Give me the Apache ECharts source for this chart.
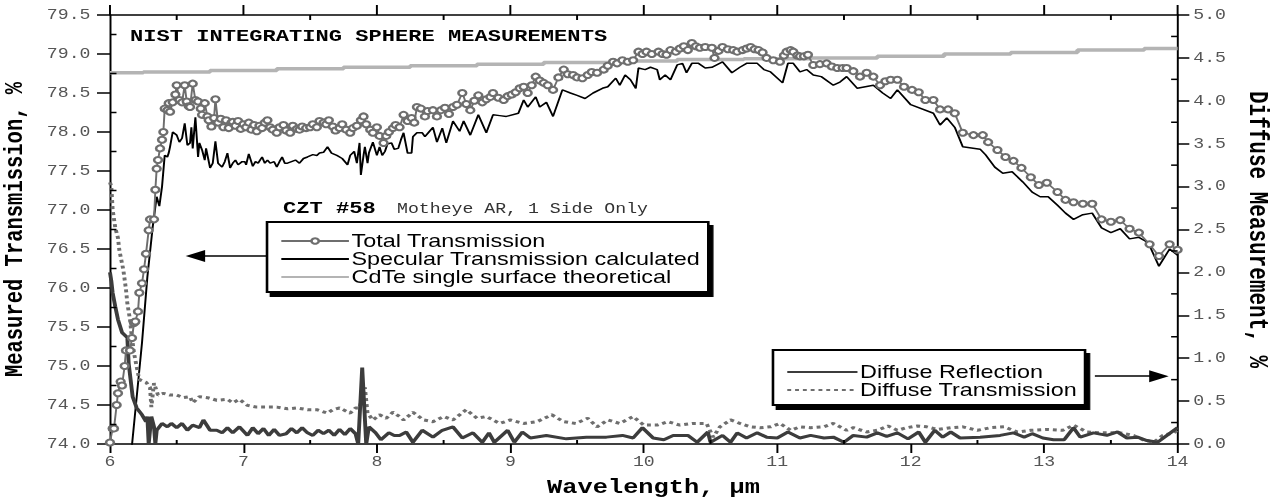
<!DOCTYPE html>
<html>
<head>
<meta charset="utf-8">
<script src="https://cdn.jsdelivr.net/npm/echarts@6/dist/echarts.min.js"></script>
<style>
  html, body { margin: 0; padding: 0; background: #fff; overflow: hidden; }
  #chart { height: 499px; transform-origin: 0 0; }
</style>
</head>
<body>
<div id="chart"></div>
<script>
// the original figure is stretched horizontally, so draw narrow and stretch with css
var STRETCH = 1.3;
var W = 1276 / STRETCH;

// [wavelength um, value]
var totalTrans = [
  [6.00,74.02],[6.02,74.2],[6.03,74.2],[6.05,74.5],[6.06,74.65],[6.08,74.8],[6.09,74.75],[6.11,75.0],[6.12,75.2],[6.15,75.2],
  [6.165,75.36],[6.18,75.55],[6.19,75.57],[6.21,75.7],[6.22,75.94],[6.24,76.06],[6.255,76.24],[6.27,76.44],[6.29,76.74],[6.30,76.88],
  [6.33,76.88],[6.34,77.26],[6.35,77.53],[6.36,77.64],[6.375,77.79],[6.39,77.9],[6.40,78.0],[6.41,78.3],[6.43,78.28],[6.44,78.37],
  [6.45,78.26],[6.47,78.38],[6.49,78.48],[6.50,78.6],[6.52,78.41],[6.54,78.38],[6.56,78.6],[6.575,78.39],[6.59,78.33],[6.60,78.32],
  [6.62,78.62],[6.64,78.41],[6.66,78.39],[6.68,78.3],[6.69,78.22],[6.71,78.37],[6.73,78.2],[6.74,78.15],[6.76,78.07],[6.78,78.18],
  [6.79,78.42],[6.81,78.12],[6.83,78.17],[6.85,78.06],[6.87,78.15],[6.89,78.05],[6.91,78.12],[6.92,78.13],[6.94,78.08],[6.96,78.14],
  [6.98,78.04],[7.00,78.10],[7.02,78.06],[7.04,78.12],[7.06,78.03],[7.08,78.09],[7.10,78.01],[7.12,78.08],[7.14,78.05],[7.16,78.12],
  [7.18,78.15],[7.20,78.06],[7.22,78.03],[7.25,77.99],[7.27,78.06],[7.30,78.09],[7.32,78.02],[7.35,77.99],[7.37,78.08],[7.40,78.04],
  [7.42,78.03],[7.44,78.07],[7.47,78.05],[7.50,78.06],[7.52,78.1],[7.55,78.06],[7.57,78.14],[7.60,78.12],[7.62,78.1],[7.64,78.15],
  [7.67,78.07],[7.69,78.02],[7.72,78.05],[7.74,78.1],[7.77,78.03],[7.80,77.99],[7.82,78.05],[7.85,78.08],[7.88,78.15],[7.90,78.2],
  [7.92,78.1],[7.95,78.03],[7.97,77.99],[8.00,78.06],[8.02,77.95],[8.05,77.86],[8.07,77.95],[8.09,78.0],[8.12,78.05],[8.14,78.09],
  [8.17,78.06],[8.20,78.22],[8.23,78.14],[8.26,78.18],[8.28,78.12],[8.30,78.32],[8.33,78.3],[8.36,78.2],[8.38,78.27],[8.42,78.28],
  [8.45,78.2],[8.48,78.28],[8.51,78.31],[8.54,78.23],[8.57,78.32],[8.60,78.35],[8.64,78.5],[8.67,78.36],[8.70,78.28],[8.73,78.4],
  [8.76,78.47],[8.79,78.38],[8.82,78.42],[8.85,78.45],[8.87,78.5],[8.91,78.44],[8.95,78.41],[8.98,78.46],[9.01,78.48],[9.04,78.51],
  [9.07,78.56],[9.10,78.58],[9.13,78.5],[9.16,78.6],[9.19,78.71],[9.22,78.66],[9.25,78.63],[9.28,78.6],[9.32,78.54],[9.36,78.7],
  [9.40,78.8],[9.43,78.74],[9.47,78.73],[9.50,78.7],[9.54,78.69],[9.58,78.73],[9.61,78.77],[9.65,78.76],[9.70,78.8],[9.73,78.85],
  [9.77,78.9],[9.80,78.88],[9.84,78.92],[9.88,78.9],[9.92,78.92],[9.96,79.03],[9.99,79.0],[10.02,79.03],[10.06,79.0],[10.11,79.03],
  [10.14,79.0],[10.17,78.99],[10.20,79.05],[10.24,79.03],[10.27,79.07],[10.30,79.1],[10.33,79.05],[10.36,79.14],[10.39,79.1],[10.42,79.08],
  [10.46,79.09],[10.51,79.08],[10.53,78.95],[10.56,79.04],[10.59,79.09],[10.63,79.06],[10.67,79.05],[10.70,79.03],[10.74,79.05],[10.77,79.07],
  [10.80,79.09],[10.83,79.06],[10.86,79.05],[10.89,79.02],[10.92,78.95],[10.97,78.92],[11.02,78.9],[11.05,78.98],[11.07,79.03],[11.10,79.05],
  [11.12,79.03],[11.15,78.98],[11.17,78.97],[11.20,78.97],[11.23,78.99],[11.27,78.86],[11.32,78.87],[11.37,78.88],[11.41,78.84],[11.45,78.82],
  [11.49,78.82],[11.52,78.82],[11.57,78.78],[11.62,78.71],[11.67,78.76],[11.72,78.71],[11.77,78.6],[11.81,78.65],[11.85,78.67],[11.90,78.67],
  [11.95,78.58],[12.01,78.54],[12.06,78.51],[12.11,78.41],[12.17,78.41],[12.22,78.29],[12.28,78.29],[12.33,78.24],[12.39,77.99],[12.47,77.96],
  [12.54,77.96],[12.58,77.87],[12.65,77.77],[12.71,77.68],[12.77,77.63],[12.83,77.54],[12.90,77.42],[12.96,77.32],[13.02,77.35],[13.10,77.23],
  [13.16,77.13],[13.22,77.1],[13.29,77.08],[13.36,77.08],[13.43,76.88],[13.50,76.85],[13.57,76.87],[13.64,76.76],[13.71,76.71],[13.79,76.56],
  [13.86,76.41],[13.94,76.56],[14.00,76.49]
];

var specTrans = [
  [6.16,73.9],[6.20,74.6],[6.24,75.3],[6.28,76.14],[6.32,76.78],[6.35,77.17],[6.37,77.05],[6.39,77.3],[6.41,77.7],[6.43,77.68],
  [6.44,77.73],[6.45,77.81],[6.47,78.0],[6.50,77.96],[6.52,77.87],[6.54,77.92],[6.56,78.11],[6.58,77.83],[6.60,77.86],[6.61,78.06],
  [6.62,77.79],[6.64,78.19],[6.66,77.68],[6.67,77.86],[6.69,77.77],[6.71,77.64],[6.72,77.79],[6.75,77.54],[6.77,77.6],[6.79,77.88],
  [6.81,77.6],[6.84,77.55],[6.86,77.62],[6.88,77.73],[6.90,77.54],[6.92,77.6],[6.94,77.64],[6.96,77.58],[6.99,77.62],[7.01,77.62],
  [7.02,77.58],[7.04,77.72],[7.07,77.56],[7.09,77.62],[7.11,77.6],[7.14,77.68],[7.16,77.6],[7.18,77.64],[7.20,77.6],[7.23,77.62],
  [7.25,77.55],[7.27,77.62],[7.29,77.68],[7.31,77.6],[7.33,77.6],[7.36,77.62],[7.39,77.64],[7.42,77.6],[7.45,77.66],[7.48,77.68],
  [7.52,77.71],[7.55,77.7],[7.57,77.73],[7.60,77.74],[7.63,77.81],[7.66,77.73],[7.70,77.7],[7.74,77.66],[7.78,77.58],[7.80,77.7],
  [7.83,77.75],[7.85,77.6],[7.87,77.86],[7.88,77.45],[7.90,77.7],[7.91,77.81],[7.93,77.6],[7.94,77.73],[7.97,77.87],[8.00,77.7],
  [8.02,77.81],[8.04,77.7],[8.06,77.75],[8.08,77.85],[8.11,77.86],[8.13,77.78],[8.16,77.79],[8.18,77.9],[8.20,77.99],[8.23,77.73],
  [8.26,77.73],[8.27,77.94],[8.30,77.99],[8.34,77.99],[8.36,77.94],[8.39,78.0],[8.42,78.06],[8.45,77.87],[8.49,78.05],[8.52,77.86],
  [8.57,78.14],[8.62,78.01],[8.65,78.14],[8.70,77.96],[8.76,78.22],[8.82,77.99],[8.87,78.22],[8.92,78.21],[8.97,78.2],[9.06,78.24],
  [9.10,78.41],[9.13,78.32],[9.19,78.45],[9.22,78.32],[9.27,78.38],[9.32,78.2],[9.39,78.54],[9.45,78.5],[9.50,78.47],[9.56,78.43],
  [9.62,78.5],[9.69,78.56],[9.73,78.58],[9.79,78.69],[9.82,78.6],[9.86,78.73],[9.90,78.67],[9.94,78.56],[9.96,78.82],[10.01,78.8],
  [10.05,78.83],[10.10,78.8],[10.12,78.67],[10.16,78.73],[10.20,78.67],[10.25,78.86],[10.29,78.88],[10.32,78.76],[10.36,78.88],[10.41,78.88],
  [10.46,78.82],[10.51,78.83],[10.59,78.9],[10.66,78.76],[10.72,78.83],[10.77,78.88],[10.85,78.88],[10.90,78.8],[10.95,78.77],[11.04,78.63],
  [11.08,78.88],[11.12,78.88],[11.17,78.77],[11.22,78.8],[11.27,78.73],[11.33,78.71],[11.42,78.6],[11.47,78.64],[11.52,78.71],[11.60,78.56],
  [11.72,78.6],[11.79,78.5],[11.85,78.43],[11.90,78.54],[12.00,78.35],[12.17,78.24],[12.22,78.09],[12.27,78.18],[12.33,78.06],[12.39,77.81],
  [12.52,77.78],[12.56,77.71],[12.63,77.55],[12.69,77.47],[12.76,77.49],[12.84,77.36],[12.91,77.23],[12.97,77.17],[13.03,77.17],[13.10,77.06],
  [13.16,76.96],[13.22,76.88],[13.29,76.94],[13.36,76.96],[13.43,76.77],[13.50,76.71],[13.57,76.76],[13.64,76.63],[13.71,76.65],[13.78,76.58],
  [13.86,76.28],[13.94,76.5],[14.00,76.42]
];

var cdteTheory = [
  [6.0,78.76],[6.5,78.77],[7.0,78.79],[7.5,78.81],[8.0,78.83],[8.5,78.85],[9.0,78.87],[9.5,78.89],[10.0,78.91],
  [10.5,78.93],[11.0,78.94],[11.5,78.95],[12.0,78.97],[12.5,79.0],[13.0,79.02],[13.5,79.05],[14.0,79.07]
];

// right axis, %
var diffRefl = [
  [6.00,2.0],[6.01,1.9],[6.02,1.76],[6.04,1.6],[6.06,1.45],[6.09,1.3],[6.13,1.24],[6.14,0.94],[6.17,0.55],[6.20,0.42],
  [6.24,0.34],[6.27,0.26],[6.28,0.32],[6.29,0.0],[6.31,0.32],[6.33,0.2],[6.34,0.0],[6.35,0.16],[6.39,0.24],[6.43,0.2],
  [6.46,0.24],[6.50,0.19],[6.54,0.24],[6.58,0.16],[6.62,0.22],[6.67,0.19],[6.70,0.28],[6.75,0.16],[6.80,0.16],[6.84,0.13],
  [6.88,0.19],[6.92,0.13],[6.97,0.2],[7.03,0.1],[7.07,0.19],[7.11,0.12],[7.15,0.18],[7.19,0.1],[7.23,0.17],[7.27,0.1],
  [7.32,0.12],[7.36,0.18],[7.40,0.13],[7.44,0.19],[7.48,0.13],[7.52,0.1],[7.56,0.16],[7.60,0.12],[7.64,0.16],[7.68,0.1],
  [7.72,0.17],[7.76,0.11],[7.80,0.18],[7.84,0.12],[7.86,0.0],[7.89,0.89],[7.92,0.0],[7.94,0.2],[7.99,0.13],[8.03,0.05],
  [8.09,0.13],[8.13,0.1],[8.17,0.1],[8.22,0.14],[8.27,0.02],[8.34,0.16],[8.42,0.08],[8.49,0.16],[8.57,0.2],[8.64,0.07],
  [8.72,0.13],[8.79,0.02],[8.84,0.13],[8.88,0.02],[8.98,0.16],[9.03,0.02],[9.09,0.14],[9.15,0.07],[9.27,0.1],[9.42,0.06],
  [9.57,0.08],[9.72,0.08],[9.84,0.1],[9.92,0.07],[9.99,0.19],[10.07,0.07],[10.15,0.05],[10.22,0.1],[10.33,0.1],[10.40,0.02],
  [10.48,0.14],[10.50,0.02],[10.59,0.1],[10.65,0.02],[10.70,0.13],[10.77,0.07],[10.85,0.13],[10.92,0.08],[11.00,0.07],[11.08,0.14],
  [11.17,0.07],[11.25,0.1],[11.35,0.07],[11.42,0.08],[11.50,0.02],[11.57,0.1],[11.67,0.08],[11.75,0.13],[11.82,0.09],[11.90,0.13],
  [11.98,0.06],[12.06,0.14],[12.11,0.02],[12.18,0.16],[12.24,0.08],[12.30,0.14],[12.37,0.07],[12.52,0.08],[12.67,0.1],[12.77,0.13],
  [12.85,0.08],[12.91,0.12],[12.99,0.07],[13.07,0.05],[13.15,0.05],[13.22,0.19],[13.27,0.08],[13.37,0.13],[13.47,0.1],[13.55,0.14],
  [13.62,0.07],[13.70,0.08],[13.77,0.04],[13.85,0.02],[13.92,0.1],[14.00,0.19]
];

var diffTrans = [
  [6.00,3.05],[6.01,3.0],[6.02,2.73],[6.04,2.52],[6.06,2.4],[6.07,2.26],[6.10,2.03],[6.12,1.8],[6.13,1.64],[6.15,1.45],
  [6.16,1.3],[6.18,1.06],[6.20,0.9],[6.22,0.75],[6.27,0.72],[6.30,0.66],[6.31,0.43],[6.33,0.71],[6.36,0.57],[6.40,0.59],
  [6.45,0.57],[6.50,0.57],[6.55,0.54],[6.60,0.55],[6.62,0.48],[6.67,0.55],[6.73,0.54],[6.80,0.51],[6.88,0.52],[6.92,0.48],
  [6.97,0.52],[7.03,0.45],[7.10,0.43],[7.18,0.43],[7.25,0.43],[7.33,0.41],[7.40,0.42],[7.48,0.4],[7.55,0.4],[7.63,0.36],
  [7.67,0.4],[7.72,0.42],[7.80,0.36],[7.84,0.42],[7.87,0.42],[7.91,0.66],[7.93,0.36],[7.97,0.28],[8.02,0.34],[8.07,0.3],
  [8.12,0.37],[8.17,0.32],[8.20,0.28],[8.27,0.37],[8.35,0.28],[8.42,0.26],[8.50,0.32],[8.57,0.28],[8.67,0.4],[8.75,0.3],
  [8.82,0.32],[8.92,0.24],[9.00,0.28],[9.10,0.24],[9.20,0.26],[9.31,0.34],[9.40,0.26],[9.49,0.24],[9.58,0.3],[9.65,0.2],
  [9.73,0.28],[9.82,0.24],[9.92,0.32],[10.00,0.22],[10.10,0.22],[10.18,0.26],[10.27,0.22],[10.37,0.24],[10.47,0.24],[10.52,0.08],
  [10.57,0.2],[10.65,0.28],[10.72,0.24],[10.80,0.2],[10.87,0.19],[10.95,0.2],[11.02,0.24],[11.10,0.16],[11.17,0.2],[11.25,0.19],
  [11.35,0.2],[11.42,0.24],[11.52,0.16],[11.57,0.19],[11.67,0.14],[11.75,0.16],[11.83,0.21],[11.90,0.16],[11.97,0.19],[12.05,0.21],
  [12.12,0.2],[12.20,0.17],[12.30,0.19],[12.39,0.2],[12.50,0.16],[12.60,0.19],[12.70,0.2],[12.80,0.14],[12.90,0.16],[13.02,0.17],
  [13.14,0.16],[13.22,0.22],[13.32,0.14],[13.44,0.13],[13.57,0.13],[13.67,0.1],[13.74,0.05],[13.82,0.02],[13.89,0.1],[13.97,0.13],
  [14.00,0.16]
];

// tick positions: majors point out, half steps point in
var xMajorTicks = [6, 7, 8, 9, 10, 11, 12, 13, 14];
var xMinorTicks = [6.5, 7.5, 8.5, 9.5, 10.5, 11.5, 12.5, 13.5];
var yLeftMinorTicks = [74.25, 74.75, 75.25, 75.75, 76.25, 76.75, 77.25, 77.75, 78.25, 78.75, 79.25];
var yRightMinorTicks = [0.25, 0.75, 1.25, 1.75, 2.25, 2.75, 3.25, 3.75, 4.25, 4.75];

// arrows pointing from each legend box toward its axis
var leftArrow = [[7.18, 76.41], [6.64, 76.41]];
var rightArrow = [[13.38, 0.79], [13.86, 0.79]];

var MONO = '"Liberation Mono", "Courier New", monospace';
var SANS = '"Liberation Sans", Arial, sans-serif';
var AXIS_LINE = { show: true, lineStyle: { color: '#000', width: 1.5 } };
var LABEL_COLOR = '#555';
var TICK = { stroke: '#000', lineWidth: 1.5 };

function tickLine(x1, y1, x2, y2) {
  return { type: 'line', shape: { x1: x1, y1: y1, x2: x2, y2: y2 }, style: TICK, silent: true };
}

// kind 0: half step on bottom+top (inward), kind 1: major on top (outward)
function renderXTick(params, api) {
  var cs = params.coordSys;
  var x = api.coord([api.value(0), api.value(1)])[0];
  var top = cs.y, bottom = cs.y + cs.height;
  if (api.value(2) === 1) return tickLine(x, top, x, top - 10);
  return { type: 'group', children: [tickLine(x, bottom, x, bottom - 4), tickLine(x, top, x, top + 5)] };
}

// kind 0: left axis inward, kind 1: right axis inward
function renderYTick(params, api) {
  var cs = params.coordSys;
  var y = api.coord([api.value(0), api.value(1)])[1];
  if (api.value(2) === 1) return tickLine(cs.x + cs.width, y, cs.x + cs.width - 5, y);
  return tickLine(cs.x, y, cs.x + 5, y);
}

var el = document.getElementById('chart');
el.style.width = W + 'px';
el.style.transform = 'scaleX(' + STRETCH + ')';
var chart = echarts.init(el, null, { renderer: 'svg' });

var noMark = { opacity: 0 };
var legendBox = {
  orient: 'vertical', selectedMode: false, itemHeight: 7, itemGap: 0,
  backgroundColor: '#fff', borderColor: '#000', borderWidth: 2, borderRadius: 0,
  shadowColor: '#000', shadowBlur: 0, shadowOffsetX: 3, shadowOffsetY: 4,
  textStyle: { fontFamily: SANS, fontSize: 18, color: '#000', padding: [0, 0, 0, -3] }
};

chart.setOption({
  animation: false,
  backgroundColor: '#fff',
  grid: { left: 84.6, right: W - 905.4, top: 15, bottom: 55, containLabel: false, outerBoundsMode: 'none' },
  xAxis: [
    {
      type: 'value', position: 'bottom', min: 6, max: 14, interval: 1,
      axisLine: AXIS_LINE, splitLine: { show: false },
      axisTick: { show: true, length: 9, lineStyle: { color: '#000', width: 1.5 } },
      axisLabel: { color: LABEL_COLOR, fontFamily: MONO, fontSize: 14, margin: 11 },
      name: 'Wavelength, µm', nameLocation: 'middle', nameGap: 34,
      nameTextStyle: { fontFamily: MONO, fontWeight: 'bold', fontSize: 19.5, color: '#000', padding: [0, 0, 0, 15] }
    },
    {
      type: 'value', position: 'top', min: 6, max: 14, interval: 1,
      axisLine: AXIS_LINE, splitLine: { show: false }, axisLabel: { show: false }, axisTick: { show: false }
    }
  ],
  yAxis: [
    {
      type: 'value', position: 'left', min: 74, max: 79.5, interval: 0.5,
      axisLine: AXIS_LINE, splitLine: { show: false },
      axisTick: { show: true, length: 10, lineStyle: { color: '#000', width: 1.5 } },
      axisLabel: { color: LABEL_COLOR, fontFamily: MONO, fontSize: 14, margin: 15, formatter: function (v) { return v.toFixed(1); } },
      name: 'Measured Transmission, %', nameLocation: 'middle', nameGap: 63,
      nameTextStyle: { fontFamily: MONO, fontWeight: 'bold', fontSize: 20.5, color: '#000' }
    },
    {
      type: 'value', position: 'right', min: 0, max: 5, interval: 0.5,
      axisLine: AXIS_LINE, splitLine: { show: false },
      axisTick: { show: true, length: 9, lineStyle: { color: '#000', width: 1.5 } },
      axisLabel: { color: LABEL_COLOR, fontFamily: MONO, fontSize: 14, margin: 12, formatter: function (v) { return v.toFixed(1); } },
      name: 'Diffuse Measurement, %', nameLocation: 'middle', nameGap: 51, nameRotate: -90,
      nameTextStyle: { fontFamily: MONO, fontWeight: 'bold', fontSize: 21, color: '#000' }
    }
  ],
  legend: [
    Object.assign({}, legendBox, {
      data: [
        { name: 'Total Transmission' },
        { name: 'Specular Transmission calculated', itemStyle: noMark },
        { name: 'CdTe single surface theoretical', itemStyle: noMark }
      ],
      left: 205.4, top: 222, itemWidth: 52, padding: [10, 6, 6, 10]
    }),
    Object.assign({}, legendBox, {
      data: [
        { name: 'Diffuse Reflection', itemStyle: noMark },
        { name: 'Diffuse Transmission', itemStyle: noMark }
      ],
      left: 594.6, top: 350, itemWidth: 54, padding: [13, 6, 6, 10]
    })
  ],
  graphic: [
    { type: 'text', left: 100, top: 28, silent: true,
      style: { text: 'NIST INTEGRATING SPHERE MEASUREMENTS', font: 'bold 17px ' + MONO, fill: '#000' } },
    { type: 'text', left: 217.7, top: 200, silent: true,
      style: { text: 'CZT #58', font: 'bold 17px ' + MONO, fill: '#000' } },
    { type: 'text', left: 305.4, top: 202, silent: true,
      style: { text: 'Motheye AR, 1 Side Only', font: '14px ' + MONO, fill: '#333' } }
  ],
  series: [
    {
      name: 'CdTe single surface theoretical', type: 'line', data: cdteTheory,
      xAxisIndex: 0, yAxisIndex: 0, symbol: 'none', step: 'middle',
      lineStyle: { color: '#b4b4b4', width: 3.5 }, itemStyle: { color: '#b4b4b4' }
    },
    {
      name: 'Specular Transmission calculated', type: 'line', data: specTrans,
      xAxisIndex: 0, yAxisIndex: 0, symbol: 'none',
      lineStyle: { color: '#000', width: 1.5 }, itemStyle: { color: '#000' },
      markLine: {
        silent: true, symbol: ['none', 'triangle'], symbolSize: [12, 15],
        label: { show: false }, lineStyle: { color: '#000', width: 1.5, type: 'solid' },
        data: [[{ coord: leftArrow[0] }, { coord: leftArrow[1] }]]
      }
    },
    {
      name: 'Total Transmission', type: 'line', data: totalTrans,
      xAxisIndex: 0, yAxisIndex: 0, symbol: 'emptyCircle', symbolSize: 6, showAllSymbol: true,
      lineStyle: { color: '#6e6e6e', width: 1.5 },
      itemStyle: { color: '#6e6e6e', borderColor: '#6e6e6e', borderWidth: 1.5 }
    },
    {
      name: 'Diffuse Transmission', type: 'line', data: diffTrans,
      xAxisIndex: 0, yAxisIndex: 1, symbol: 'none',
      lineStyle: { color: '#6e6e6e', width: 3, type: [3, 3] }, itemStyle: { color: '#6e6e6e' }
    },
    {
      name: 'Diffuse Reflection', type: 'line', data: diffRefl,
      xAxisIndex: 0, yAxisIndex: 1, symbol: 'none',
      lineStyle: { color: '#3c3c3c', width: 3 }, itemStyle: { color: '#3c3c3c' },
      markLine: {
        silent: true, symbol: ['none', 'triangle'], symbolSize: [12, 15],
        label: { show: false }, lineStyle: { color: '#000', width: 1.5, type: 'solid' },
        data: [[{ coord: rightArrow[0] }, { coord: rightArrow[1] }]]
      }
    },
    // frame ticks that the axis component cannot point both ways
    {
      type: 'custom', xAxisIndex: 0, yAxisIndex: 0, silent: true, clip: false, z: 5,
      data: xMinorTicks.map(function (v) { return [v, 74, 0]; })
        .concat(xMajorTicks.map(function (v) { return [v, 74, 1]; })),
      renderItem: renderXTick
    },
    {
      type: 'custom', xAxisIndex: 0, yAxisIndex: 0, silent: true, clip: false, z: 5,
      data: yLeftMinorTicks.map(function (v) { return [6, v, 0]; }),
      renderItem: renderYTick
    },
    {
      type: 'custom', xAxisIndex: 0, yAxisIndex: 1, silent: true, clip: false, z: 5,
      data: yRightMinorTicks.map(function (v) { return [14, v, 1]; }),
      renderItem: renderYTick
    }
  ]
});
</script>
</body>
</html>
